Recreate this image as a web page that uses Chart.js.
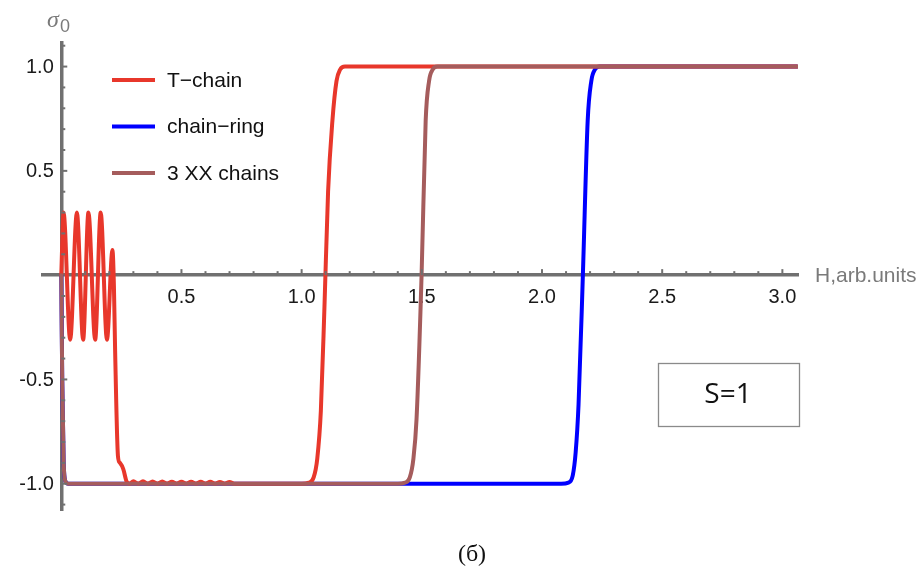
<!DOCTYPE html>
<html>
<head>
<meta charset="utf-8">
<script src="https://cdn.jsdelivr.net/npm/chart.js@4"></script>
<style>html,body{margin:0;padding:0;background:#fff;}canvas{display:block;}</style>
</head>
<body>
<canvas id="c" width="923" height="574" style="width:923px;height:574px"></canvas>
<script>
// ---- data ----
const seriesNames = ['T\u2212chain', 'chain\u2212ring', '3 XX chains'];

const tChainH = [0, 0.0095, 0.037, 0.065, 0.091, 0.113, 0.141, 0.164, 0.19, 0.213, 0.219, 0.224, 0.236, 0.244, 0.258, 0.272, 0.285,
  0.30, 0.32, 0.34, 0.36, 0.38, 0.40, 0.42, 0.44, 0.46, 0.48, 0.50, 0.52, 0.54, 0.56, 0.58, 0.60, 0.62, 0.64, 0.66, 0.68, 0.70, 0.72,
  0.85, 1.00, 1.03, 1.05, 1.065, 1.08, 1.095, 1.11, 1.128, 1.145, 1.16, 1.18, 1.30, 3.06];
const tChainS = [0, 0.30, -0.31, 0.30, -0.31, 0.30, -0.31, 0.30, -0.31, 0.12, -0.05, -0.36, -0.87, -0.90, -0.93, -0.99, -1.00,
  -0.988, -1.0, -0.988, -1.0, -0.989, -1.0, -0.989, -1.0, -0.99, -1.0, -0.99, -1.0, -0.99, -1.0, -0.991, -1.0, -0.991, -1.0, -0.992, -1.0, -0.992, -1.0,
  -1.0, -1.0, -0.995, -0.97, -0.88, -0.65, -0.15, 0.40, 0.74, 0.93, 0.985, 1.0, 1.0, 1.0];

const ringH = [0, 0.004, 0.01, 0.018, 0.03, 2.08, 2.11, 2.128, 2.14, 2.152, 2.17, 2.19, 2.205, 2.22, 2.24, 3.06];
const ringS = [0, -0.5, -0.9, -0.99, -1, -1, -0.995, -0.96, -0.85, -0.62, 0, 0.74, 0.93, 0.985, 1, 1];

const xx3H = [0, 0.004, 0.01, 0.018, 0.03, 1.40, 1.43, 1.45, 1.465, 1.478, 1.499, 1.516, 1.53, 1.545, 1.565, 3.06];
const xx3S = [0, -0.5, -0.9, -0.99, -1, -1, -0.995, -0.97, -0.88, -0.69, 0, 0.74, 0.93, 0.985, 1, 1];

const xTicks = [0.5, 1.0, 1.5, 2.0, 2.5, 3.0];
const xTickLabels = ['0.5', '1.0', '1.5', '2.0', '2.5', '3.0'];
const yTicks = [-1.0, -0.5, 0.5, 1.0];
const yTickLabels = ['-1.0', '-0.5', '0.5', '1.0'];

// ---- styling ----
const AXIS = '#707070';
const colors = ['#e8372b', '#0000ff', '#a55c5c'];
const zip = (xs, ys) => xs.map((x, i) => ({x: x, y: ys[i]}));

const decor = {
  id: 'decor',
  afterDraw(chart) {
    const ctx = chart.ctx, xs = chart.scales.x, ys = chart.scales.y;
    const x0 = xs.getPixelForValue(0), y0 = ys.getPixelForValue(0);
    ctx.save();
    // tick marks (major 0.5, minor 0.1)
    ctx.strokeStyle = AXIS; ctx.lineWidth = 2;
    for (let k = 1; k <= 30; k++) {
      const px = xs.getPixelForValue(k / 10);
      const len = (k % 5 === 0) ? 6 : 4;
      ctx.beginPath(); ctx.moveTo(px, y0); ctx.lineTo(px, y0 - len); ctx.stroke();
    }
    for (let k = -11; k <= 11; k++) {
      if (k === 0) continue;
      const py = ys.getPixelForValue(k / 10);
      const len = (k % 5 === 0) ? 6 : 4;
      ctx.beginPath(); ctx.moveTo(x0, py); ctx.lineTo(x0 + len, py); ctx.stroke();
    }
    // y tick labels, placed through the y scale
    ctx.fillStyle = '#1a1a1a';
    ctx.font = '20px "Liberation Sans", Arial, sans-serif';
    ctx.textAlign = 'right'; ctx.textBaseline = 'middle';
    ys.ticks.forEach((t, i) => ctx.fillText(yTickLabels[i], x0 - 7.5, ys.getPixelForValue(t.value) + 1));
    // legend
    chart.data.datasets.forEach((ds, i) => {
      const ly = 80 + i * 46.5;
      ctx.strokeStyle = ds.borderColor; ctx.lineWidth = 3.8; ctx.lineCap = 'butt';
      ctx.beginPath(); ctx.moveTo(112, ly); ctx.lineTo(155, ly); ctx.stroke();
      ctx.fillStyle = '#111'; ctx.font = '21px "Liberation Sans", Arial, sans-serif';
      ctx.textAlign = 'left'; ctx.textBaseline = 'middle';
      ctx.fillText(ds.label, 167, ly + 1);
    });
    // axis titles
    ctx.fillStyle = '#7a7a7a';
    ctx.font = '21px "Liberation Sans", Arial, sans-serif';
    ctx.textAlign = 'left'; ctx.textBaseline = 'middle';
    ctx.fillText('H,arb.units', 815, y0 + 1);
    ctx.textBaseline = 'alphabetic';
    ctx.font = 'italic 24px "Liberation Serif", serif';
    ctx.fillText('\u03C3', 47, 27);
    ctx.font = '18px "Liberation Sans", Arial, sans-serif';
    ctx.fillText('0', 60, 32);
    // S=1 box
    ctx.strokeStyle = '#8a8a8a'; ctx.lineWidth = 1.3;
    ctx.strokeRect(658.5, 363.5, 141, 63);
    ctx.fillStyle = '#111'; ctx.font = '28px "Open Sans", "Noto Sans", sans-serif';
    ctx.textAlign = 'center'; ctx.textBaseline = 'middle';
    ctx.fillText('S=1', 728, 395);
    // caption
    ctx.font = '24px "Liberation Serif", serif';
    ctx.fillText('(\u0431)', 472, 555);
    ctx.restore();
  }
};

new Chart(document.getElementById('c'), {
  type: 'line',
  data: {
    datasets: [
      {label: seriesNames[0], data: zip(tChainH, tChainS), borderColor: colors[0], order: 2},
      {label: seriesNames[1], data: zip(ringH, ringS), borderColor: colors[1], order: 3},
      {label: seriesNames[2], data: zip(xx3H, xx3S), borderColor: colors[2], order: 1}
    ].map(d => Object.assign(d, {borderWidth: 4, pointRadius: 0, fill: false, cubicInterpolationMode: 'monotone', borderJoinStyle: 'round', borderCapStyle: 'round'}))
  },
  options: {
    responsive: false,
    devicePixelRatio: 1,
    animation: false,
    layout: {padding: {left: 43, right: 125, top: 43, bottom: 64}},
    plugins: {legend: {display: false}, tooltip: {enabled: false}},
    scales: {
      x: {
        type: 'linear', min: -0.076, max: 3.065, position: {y: 0}, z: 1,
        afterBuildTicks: s => { s.ticks = xTicks.map(v => ({value: v})); },
        ticks: {autoSkip: false, maxRotation: 0, padding: 10, color: '#1a1a1a',
          font: {family: '"Liberation Sans", Arial, sans-serif', size: 20},
          callback: (v, i) => xTickLabels[i]},
        grid: {display: true, drawOnChartArea: false, drawTicks: false},
        border: {display: true, color: AXIS, width: 3.5}
      },
      y: {
        type: 'linear', min: -1.126, max: 1.113, position: {x: 0}, z: 1,
        afterBuildTicks: s => { s.ticks = yTicks.map(v => ({value: v})); },
        ticks: {display: false},
        grid: {display: true, drawOnChartArea: false, drawTicks: false},
        border: {display: true, color: AXIS, width: 3.5}
      }
    }
  },
  plugins: [decor]
});
</script>
</body>
</html>
